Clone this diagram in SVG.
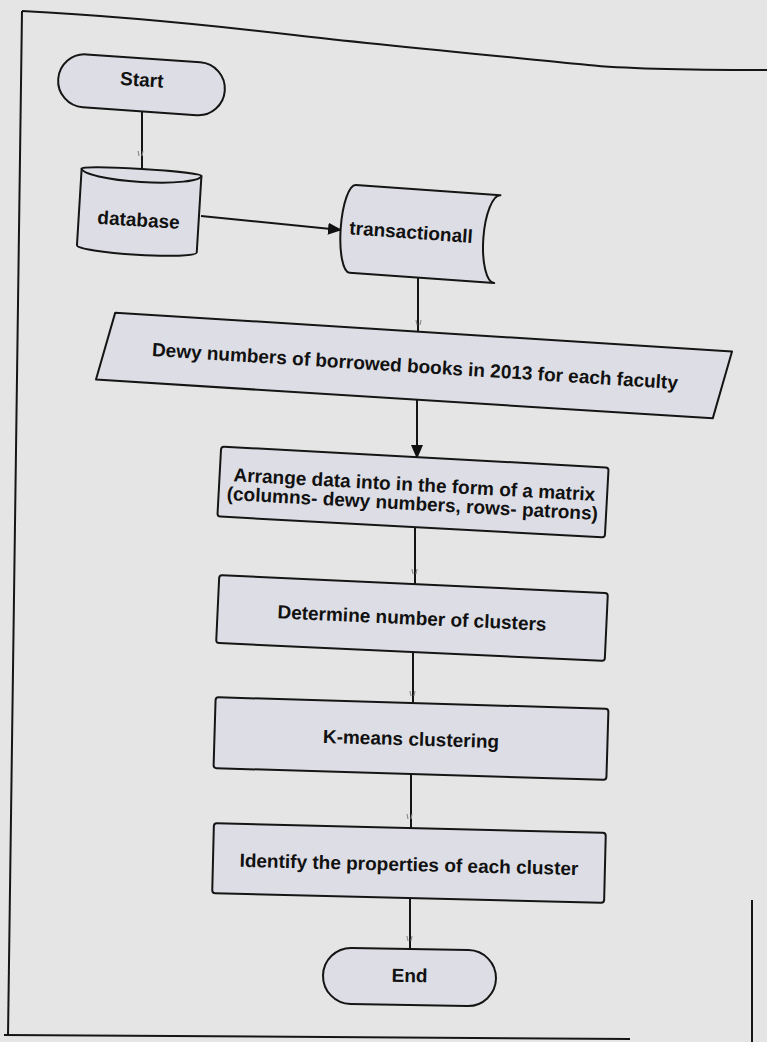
<svg xmlns="http://www.w3.org/2000/svg" width="767" height="1042" viewBox="0 0 767 1042">
  <defs>
    <style>
      .shape { fill: #dddee5; stroke: #151515; stroke-width: 2; stroke-linejoin: round; }
      .inner { fill: none; stroke: #151515; stroke-width: 2; }
      .label { font-family: "Liberation Sans", Arial, sans-serif; font-weight: bold; font-size: 19px; fill: #111; text-anchor: middle; }
      .conn { fill: none; stroke: #151515; stroke-width: 2; }
      .frame { fill: none; stroke: #161616; stroke-width: 2; }
      .tip { fill: none; stroke: #8c8c8c; stroke-width: 1.2; }
    </style>
    <marker id="arrow" viewBox="0 0 14 12" refX="13" refY="6" markerWidth="14" markerHeight="12" markerUnits="userSpaceOnUse" orient="auto">
      <path d="M0,0 L14,6 L0,12 Z" fill="#111"/>
    </marker>
    <path id="tick" d="M-3,-3 L-2,2 M2,-3 L1,2"/>
  </defs>

  <!-- page -->
  <rect x="0" y="0" width="767" height="1042" fill="#e5e5e5"/>

  <!-- page frame -->
  <g id="frame">
    <path class="frame" d="M22,11 C120,16 200,24 294,35 S540,60 588,65 S720,70 767,70"/>
    <path class="frame" d="M22,11 L8,1036"/>
    <path class="frame" d="M4,1035 L630,1039"/>
    <path class="frame" d="M752,900 L752,1042"/>
  </g>

  <!-- connectors -->
  <g id="connectors">
    <path class="conn" d="M142,111 L142,169"/>
    <path class="conn" d="M201,216 L341,230" marker-end="url(#arrow)"/>
    <path class="conn" d="M418,278 L418,332"/>
    <path class="conn" d="M417,399 L417,458" marker-end="url(#arrow)"/>
    <path class="conn" d="M415,527 L415,584"/>
    <path class="conn" d="M413,651 L413,703"/>
    <path class="conn" d="M411,774 L411,828"/>
    <path class="conn" d="M410,898 L410,949"/>
    <use href="#tick" class="tip" x="141" y="154"/>
    <use href="#tick" class="tip" x="419" y="323"/>
    <use href="#tick" class="tip" x="415" y="572"/>
    <use href="#tick" class="tip" x="413" y="694"/>
    <use href="#tick" class="tip" x="410" y="817"/>
    <use href="#tick" class="tip" x="410" y="939"/>
  </g>

  <!-- nodes -->
  <g id="start" transform="translate(141.5,84.8) rotate(4)">
    <rect class="shape" x="-83.5" y="-26.5" width="167" height="53" rx="26.5"/>
    <text class="label" x="0" y="1.5">Start</text>
  </g>

  <g id="database" transform="translate(139.2,210.4) rotate(3.5)">
    <path class="shape" d="M-60,-38.5 A60,3 0 0 1 60,-38.5 L60,38.5 A60,6 0 0 1 -60,38.5 Z"/>
    <path class="inner" d="M-60,-38.5 A60,10 0 0 0 60,-38.5"/>
    <text class="label" x="0" y="16">database</text>
  </g>

  <g id="transactional" transform="translate(425,234) rotate(4.1)">
    <path class="shape" d="M-72.5,-44 L72.5,-44 A14,44 0 0 0 72.5,44 L-72.5,44 A12,44 0 0 1 -72.5,-44 Z"/>
    <text class="label" x="-14" y="5.6">transactionall</text>
  </g>

  <g id="dewy" transform="translate(414,365.5) rotate(3.6)">
    <path class="shape" d="M-301.5,-34 L316.5,-34 L301.5,34 L-316.5,34 Z"/>
    <text class="label" x="1" y="7">Dewy numbers of borrowed books in 2013 for each faculty</text>
  </g>

  <g id="arrange" transform="translate(413,492) rotate(3.1)">
    <rect class="shape" x="-194" y="-35" width="388" height="70" rx="3"/>
    <text class="label" x="1" y="-1">Arrange data into in the form of a matrix</text>
    <text class="label" x="0" y="18">(columns- dewy numbers, rows- patrons)</text>
  </g>

  <g id="determine" transform="translate(412,618) rotate(2.65)">
    <rect class="shape" x="-194.5" y="-34" width="389" height="68" rx="3"/>
    <text class="label" x="0" y="6.5">Determine number of clusters</text>
  </g>

  <g id="kmeans" transform="translate(411,738.5) rotate(1.7)">
    <rect class="shape" x="-196.5" y="-35.5" width="393" height="71" rx="3"/>
    <text class="label" x="0" y="7">K-means clustering</text>
  </g>

  <g id="identify" transform="translate(409,863) rotate(1.4)">
    <rect class="shape" x="-196" y="-35" width="392" height="70" rx="3"/>
    <text class="label" x="0" y="8">Identify the properties of each cluster</text>
  </g>

  <g id="end" transform="translate(409.5,977) rotate(1)">
    <rect class="shape" x="-86.5" y="-28" width="173" height="56" rx="28"/>
    <text class="label" x="0" y="5">End</text>
  </g>
</svg>
